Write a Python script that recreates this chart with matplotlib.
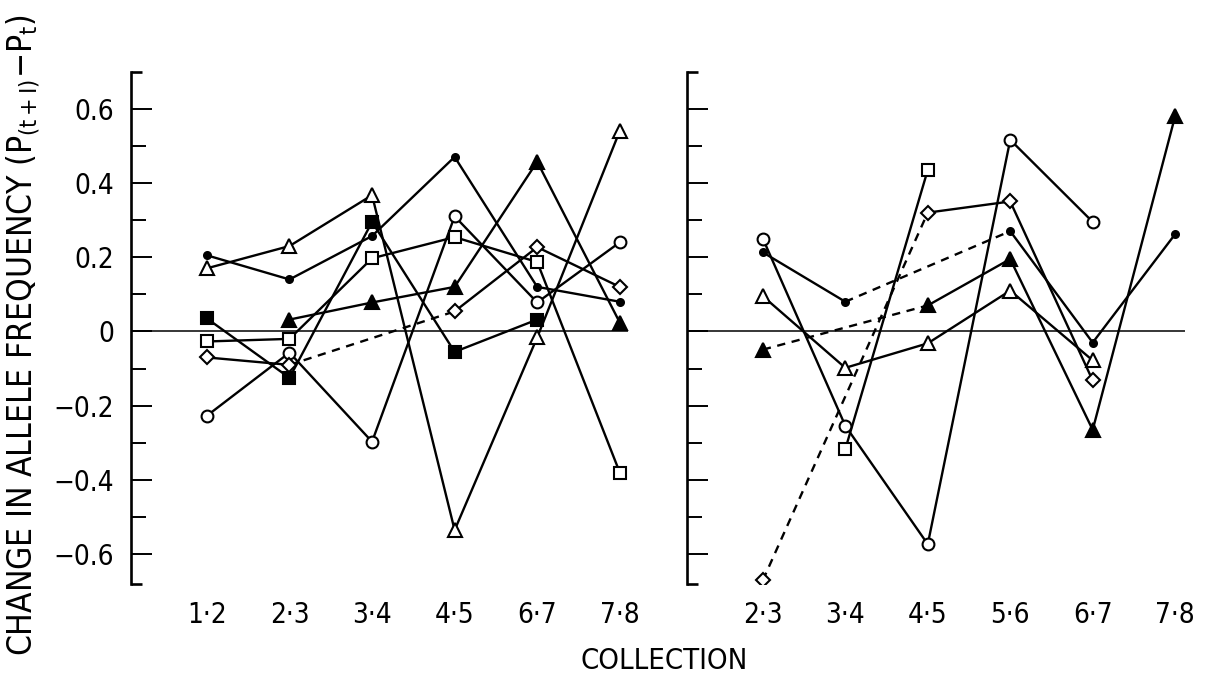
import numpy as np
import matplotlib
matplotlib.use("Agg")
import matplotlib.pyplot as plt

nan = np.nan

# categories (collection intervals)
left_cats = ["1·2", "2·3", "3·4", "4·5", "6·7", "7·8"]
right_cats = ["2·3", "3·4", "4·5", "5·6", "6·7", "7·8"]

# left panel series
left_filled_circle = [0.205, 0.14, 0.257, 0.47, 0.12, 0.08]
left_open_triangle = [0.17, 0.23, 0.367, -0.535, -0.016, 0.54]
left_filled_square = [0.035, -0.125, 0.295, -0.055, 0.032, nan]
left_open_square = [-0.027, -0.02, 0.197, 0.254, 0.187, -0.38]
left_filled_triangle = [nan, 0.032, 0.078, 0.12, 0.457, 0.024]
left_open_circle = [-0.227, -0.057, -0.297, 0.31, 0.078, 0.24]
left_diamond = [-0.07, -0.09, nan, 0.054, 0.227, 0.12]

# right panel series
right_open_circle = [0.25, -0.254, -0.573, 0.516, 0.295, nan]
right_filled_circle = [0.213, 0.08, nan, 0.27, -0.03, 0.262]
right_open_triangle = [0.095, -0.098, -0.032, 0.11, -0.078, nan]
right_filled_triangle = [-0.049, nan, 0.07, 0.195, -0.265, 0.58]
right_open_square = [nan, -0.317, 0.435, nan, nan, nan]
right_diamond = [-0.67, nan, 0.32, 0.35, -0.132, nan]

ytick_vals = [0.6, 0.4, 0.2, 0, -0.2, -0.4, -0.6]
ytick_labels = ["0.6", "0.4", "0.2", "0", "−0.2", "−0.4", "−0.6"]

FONT = ["DejaVu Sans"]
plt.rcParams["font.family"] = FONT
plt.rcParams["font.stretch"] = "condensed"
plt.rcParams["mathtext.fontset"] = "dejavusans"

# marker styles: (marker, size, filled)
styles = {
    "filled_circle": ("o", 5, True),
    "open_circle": ("o", 8.5, False),
    "open_triangle": ("^", 9.5, False),
    "filled_triangle": ("^", 9.5, True),
    "open_square": ("s", 8, False),
    "filled_square": ("s", 8, True),
    "diamond": ("D", 7.5, False),
}

left_series = [
    ("filled_circle", left_filled_circle),
    ("open_triangle", left_open_triangle),
    ("filled_square", left_filled_square),
    ("open_square", left_open_square),
    ("filled_triangle", left_filled_triangle),
    ("open_circle", left_open_circle),
    ("diamond", left_diamond),
]
right_series = [
    ("open_circle", right_open_circle),
    ("filled_circle", right_filled_circle),
    ("open_triangle", right_open_triangle),
    ("filled_triangle", right_filled_triangle),
    ("open_square", right_open_square),
    ("diamond", right_diamond),
]

fig = plt.figure(figsize=(12.08, 6.81), dpi=100)
ax1 = fig.add_axes([0.1084, 0.1425, 0.4115, 0.7525])
ax2 = fig.add_axes([0.5687, 0.1425, 0.4123, 0.7525])


def draw(ax, series):
    for name, vals in series:
        vals = np.array(vals, dtype=float)
        idx = np.where(~np.isnan(vals))[0]
        # lines: adjacent points solid, skipped collections dashed
        for a, b in zip(idx[:-1], idx[1:]):
            ls = "-" if b - a == 1 else (0, (3.5, 2.8))
            ax.plot([a, b], [vals[a], vals[b]], color="black", lw=1.7,
                    ls=ls, zorder=2, solid_capstyle="round")
        m, ms, filled = styles[name]
        ax.plot(idx, vals[idx], ls="none", marker=m, ms=ms,
                mfc="black" if filled else "white", mec="black", mew=1.5,
                zorder=3)


draw(ax1, left_series)
draw(ax2, right_series)

for ax, cats in [(ax1, left_cats), (ax2, right_cats)]:
    ax.set_ylim(-0.68, 0.70)
    ax.set_xlim(-0.92, 5.1)
    ax.axhline(0, color="black", lw=1.1, zorder=1)
    for s in ["top", "right", "bottom"]:
        ax.spines[s].set_visible(False)
    ax.spines["left"].set_linewidth(1.9)
    ax.set_xticks(range(len(cats)))
    ax.set_xticklabels(cats, fontsize=20)
    ax.tick_params(axis="x", length=0, pad=12)
    ax.set_yticks(ytick_vals)
    ax.set_yticks(np.arange(-0.5, 0.6, 0.2), minor=True)
    ax.tick_params(axis="y", which="major", direction="in", length=15,
                   width=1.4, pad=12)
    ax.tick_params(axis="y", which="minor", direction="in", length=11,
                   width=1.4)
    # bracket caps at the ends of the axis
    for yy in (0, 1):
        ax.plot([0, 0.022], [yy, yy], transform=ax.transAxes, color="black",
                lw=1.9, clip_on=False, solid_capstyle="butt")
    ax.set_facecolor("white")

ax1.set_yticklabels(ytick_labels, fontsize=20)
ax2.set_yticklabels([])
ax2.set_xlim(-0.92, 5.12)

fig.text(0.55, 0.03, "COLLECTION", ha="center", va="center", fontsize=21)
fig.text(0.019, 0.508,
         r"CHANGE IN ALLELE FREQUENCY (P$_{(\mathrm{t}+\mathrm{I})}$$-$P$_{\mathrm{t}}$)",
         rotation=90, ha="center", va="center", fontsize=24)

fig.savefig("out.png", dpi=100, facecolor="white")
